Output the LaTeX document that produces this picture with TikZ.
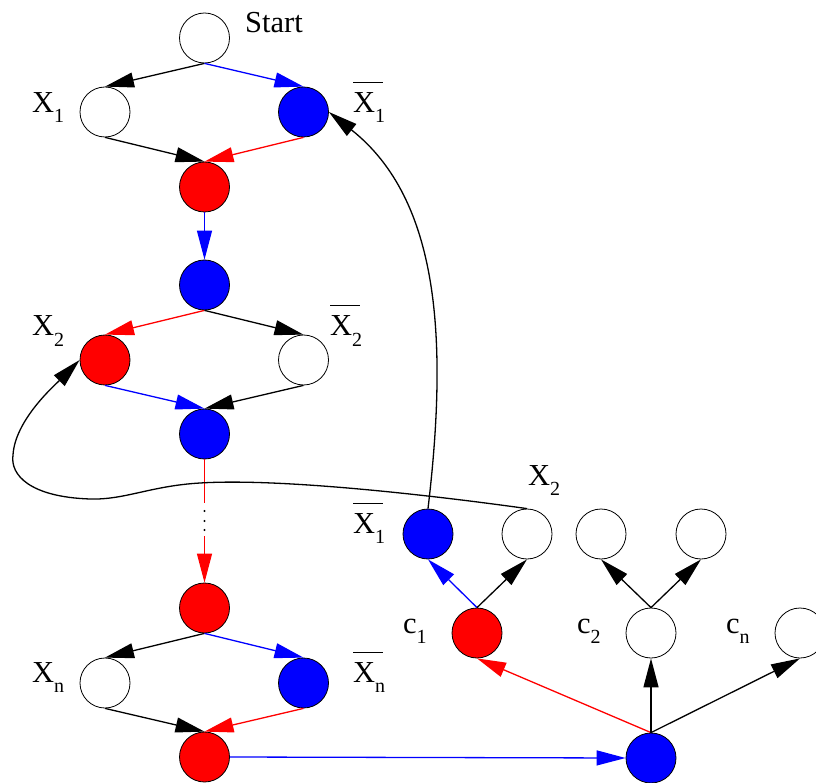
\documentclass[tikz,border=0pt]{standalone}
\usepackage{fontspec}
\setmainfont{Liberation Serif}
\usetikzlibrary{arrows.meta}
\newcommand\sbx[1]{\raisebox{-10pt}{\fontsize{20}{20}\selectfont #1}}
\newcommand\ovX{\makebox[0pt][l]{\raisebox{29.5pt}{\rule{30pt}{1pt}}}X}
\begin{document}
\begin{tikzpicture}[x=1pt,y=-1pt,
  vtx/.style={circle, draw=black, line width=0.8pt, minimum size=50pt, inner sep=0pt},
  wn/.style={vtx, fill=white},
  bn/.style={vtx, fill=blue},
  rn/.style={vtx, fill=red},
  lab/.style={font=\fontsize{30.5}{30.5}\selectfont, anchor=base west, inner sep=0pt},
  conn/.style={line width=1.3pt, -{Triangle[length=29pt,width=15pt]}},
  plain/.style={line width=1.3pt}]
\useasboundingbox (0,0) rectangle (816,783);
\clip (0,0) rectangle (816,783);
% nodes
\node[wn] (start) at (204.5,38) {};
\node[wn] (x1) at (105,112) {};
\node[bn] (x1b) at (303.5,112) {};
\node[rn] (r1) at (204.5,187) {};
\node[bn] (b1) at (204.5,285) {};
\node[rn] (x2) at (105,360) {};
\node[wn] (x2b) at (303.5,360) {};
\node[bn] (b2) at (204.5,434) {};
\node[rn] (r2) at (204.5,608) {};
\node[wn] (xn) at (105,683) {};
\node[bn] (xnb) at (303.5,683) {};
\node[rn] (r3) at (204.5,757) {};
\node[bn] (bb) at (651,758) {};
\node[rn] (c1) at (477,633) {};
\node[bn] (y1) at (428,534) {};
\node[wn] (y2) at (527,534) {};
\node[wn] (z1) at (601,534) {};
\node[wn] (z2) at (701,534) {};
\node[wn] (c2) at (651,633) {};
\node[wn] (cn) at (800,633) {};
% labels
\node[lab] (lstart) at (245,33) {Start};
\node[lab] (lx1) at (32,113) {X\sbx{1}};
\node[lab] (lx1b) at (353,113) {\ovX\sbx{1}};
\node[lab] (lx2) at (32,336) {X\sbx{2}};
\node[lab] (lx2b) at (330,336) {\ovX\sbx{2}};
\node[lab] (lxn) at (32,682) {X\sbx{n}};
\node[lab] (lxnb) at (353,682) {\ovX\sbx{n}};
\node[lab] (ly1) at (353,533) {\ovX\sbx{1}};
\node[lab] (ly2) at (528,485) {X\sbx{2}};
\node[lab] (lc1) at (403,633) {c\sbx{1}};
\node[lab] (lc2) at (577,633) {c\sbx{2}};
\node[lab] (lcn) at (726,633) {c\sbx{n}};
% edges
\draw[conn] (start.south) -- (x1.north);
\draw[conn,blue] (start.south) -- (x1b.north);
\draw[conn] (x1.south) -- (r1.north);
\draw[conn,red] (x1b.south) -- (r1.north);
\draw[conn,blue] (r1.south) -- (b1.north);
\draw[conn,red] (b1.south) -- (x2.north);
\draw[conn] (b1.south) -- (x2b.north);
\draw[conn,blue] (x2.south) -- (b2.north);
\draw[conn] (x2b.south) -- (b2.north);
\coordinate (d1) at (204.5,503);
\coordinate (d2) at (204.5,536);
\draw[plain,red] (b2.south) -- (d1);
\draw[conn,red] (d2) -- (r2.north);
\foreach \yy in {511,521,530} \fill (204.5,\yy) circle (1.1pt);
\draw[conn] (r2.south) -- (xn.north);
\draw[conn,blue] (r2.south) -- (xnb.north);
\draw[conn] (xn.south) -- (r3.north);
\draw[conn,red] (xnb.south) -- (r3.north);
\draw[conn,blue] (r3.east) -- (bb.west);
\draw[conn,red] (bb.north) -- (c1.south);
\draw[conn] (bb.north) -- (c2.south);
\draw[conn] (bb.north) -- (cn.south);
\draw[conn,blue] (c1.north) -- (y1.south);
\draw[conn] (c1.north) -- (y2.south);
\draw[conn] (c2.north) -- (z1.south);
\draw[conn] (c2.north) -- (z2.south);
% feedback curves
\draw[conn] (y1.north) .. controls (448,340) and (440,200) .. (x1b.east);
\coordinate (k1) at (200,483);
\coordinate (k2) at (90,499);
\coordinate (k3) at (13,455);
\draw[conn] (y2.north) .. controls (430,495) and (280,478) .. (k1)
  .. controls (150,486) and (125,500) .. (k2)
  .. controls (30,497) and (10,475) .. (k3)
  .. controls (15,420) and (55,385) .. (x2.west);
\end{tikzpicture}
\end{document}
